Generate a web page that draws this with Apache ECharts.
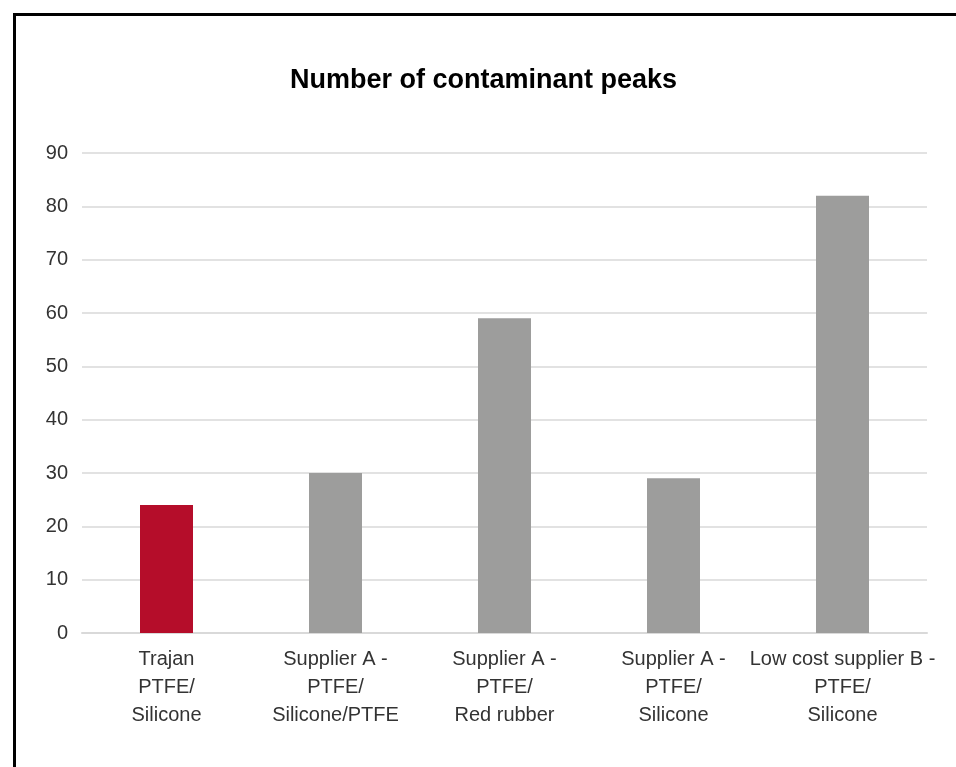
<!DOCTYPE html>
<html>
<head>
<meta charset="utf-8">
<script src="https://cdn.jsdelivr.net/npm/echarts@6/dist/echarts.min.js"></script>
<style>
  html, body { margin: 0; padding: 0; background: #fff; }
  #chart { width: 956px; height: 767px; position: absolute; left: 0; top: 0; }
  #frame { position: absolute; left: 13px; top: 13px; width: 1000px; height: 800px; border: 3px solid #000; box-sizing: border-box; pointer-events: none; }
</style>
</head>
<body>
<div id="chart"></div>
<div id="frame"></div>
<script>
const titleText = 'Number of contaminant peaks';
const categories = [
  'Trajan\nPTFE/\nSilicone',
  'Supplier A -\nPTFE/\nSilicone/PTFE',
  'Supplier A -\nPTFE/\nRed rubber',
  'Supplier A -\nPTFE/\nSilicone',
  'Low cost supplier B -\nPTFE/\nSilicone'
];
const values = [24, 30, 59, 29, 82];
const barColors = ['#b50d2a', '#9d9d9c', '#9d9d9c', '#9d9d9c', '#9d9d9c'];
const yMin = 0, yMax = 90, yInterval = 10;

const chart = echarts.init(document.getElementById('chart'), null, { renderer: 'canvas' });
chart.setOption({
  animation: false,
  backgroundColor: '#fff',
  title: {
    text: titleText,
    left: 290,
    top: 67,
    padding: 0,
    textStyle: { fontFamily: 'Liberation Sans, Arial, sans-serif', fontSize: 27, fontWeight: 'bold', color: '#000' }
  },
  grid: { left: 82, right: 29, top: 153, bottom: 134, containLabel: false },
  xAxis: {
    type: 'category',
    data: categories,
    axisLine: { show: true, lineStyle: { color: '#d9d9d9', width: 2 } },
    axisTick: { show: false },
    axisLabel: {
      interval: 0,
      margin: 12,
      color: '#333',
      fontFamily: 'Liberation Sans, Arial, sans-serif',
      fontSize: 20,
      lineHeight: 28
    }
  },
  yAxis: {
    type: 'value',
    min: yMin, max: yMax, interval: yInterval,
    axisLine: { show: false },
    axisTick: { show: false },
    splitLine: { lineStyle: { color: '#d9d9d9', width: 1.5 } },
    axisLabel: {
      margin: 14,
      color: '#333',
      fontFamily: 'Liberation Sans, Arial, sans-serif',
      fontSize: 20
    }
  },
  series: [{
    type: 'bar',
    data: values.map((v, i) => ({ value: v, itemStyle: { color: barColors[i] } })),
    barWidth: 53
  }]
});
</script>
</body>
</html>
